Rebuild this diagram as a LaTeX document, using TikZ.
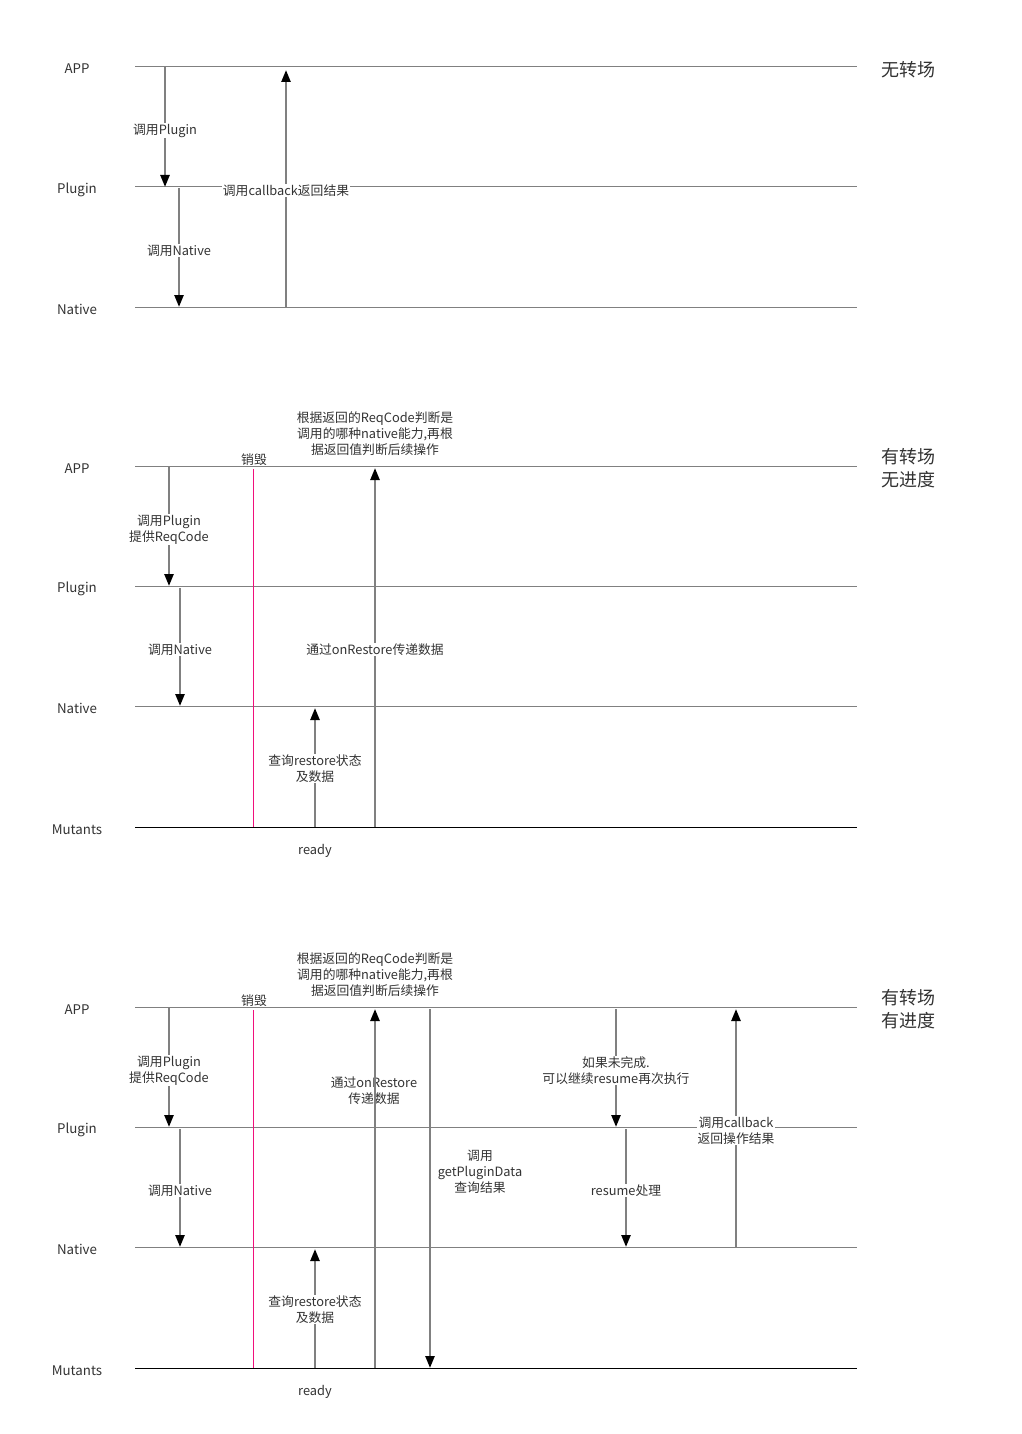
\documentclass[tikz,border=0pt]{standalone}
\usepackage{fontspec}
\setmainfont{Noto Sans CJK SC}
\usetikzlibrary{arrows.meta}
\definecolor{lgray}{HTML}{808080}
\definecolor{killc}{HTML}{F0107C}
\tikzset{
  hline/.style={draw=lgray,line width=1pt},
  mline/.style={draw=black,line width=1pt},
  msg/.style={draw=lgray,line width=2.4pt,-{Triangle[width=9pt,length=12pt,black]}},
  txt/.style={yshift=-1.5pt,text=black!80},
  lbl/.style={txt,fill=white,inner sep=1pt,align=center,font=\fontsize{12.8}{16}\selectfont},
  plain/.style={txt,inner sep=1pt,align=center,font=\fontsize{12.8}{16}\selectfont},
  lane/.style={txt,inner sep=0pt,font=\fontsize{13.3}{16}\selectfont},
  side/.style={txt,inner sep=0pt,align=left,font=\fontsize{18}{23}\selectfont},
  killl/.style={draw=killc,line width=0.9pt}
}
\begin{document}
\begin{tikzpicture}[x=1pt,y=-1pt]
\useasboundingbox[fill=white] (0,0) rectangle (1021,1434);

% ================= Panel 1 =================
\node[lane] (p1app) at (77,67) {APP};
\node[lane] (p1plg) at (77,188) {Plugin};
\node[lane] (p1nat) at (77,308) {Native};
\node[side,anchor=west] (p1side) at (881,68) {无转场};
\coordinate (p1l1a) at (135,67); \coordinate (p1l1b) at (857,67);
\coordinate (p1l2a) at (135,187); \coordinate (p1l2b) at (857,187);
\coordinate (p1l3a) at (135,307); \coordinate (p1l3b) at (857,307);
\draw[hline] (p1l1a) -- (p1l1b);
\draw[hline] (p1l2a) -- (p1l2b);
\draw[hline] (p1l3a) -- (p1l3b);
\coordinate (p1a1s) at (165,67); \coordinate (p1a1e) at (165,187);
\coordinate (p1a2s) at (179,188); \coordinate (p1a2e) at (179,307);
\coordinate (p1a3s) at (286,307); \coordinate (p1a3e) at (286,70);
\draw[msg] (p1a1s) -- (p1a1e);
\draw[msg] (p1a2s) -- (p1a2e);
\draw[msg] (p1a3s) -- (p1a3e);
\node[lbl] (p1t1) at (165,129) {调用Plugin};
\node[lbl] (p1t2) at (179,249) {调用Native};
\node[lbl] (p1t3) at (286,189) {调用callback返回结果};

% ================= Panel 2 =================
\node[lane] (p2app) at (77,467) {APP};
\node[lane] (p2plg) at (77,587) {Plugin};
\node[lane] (p2nat) at (77,707) {Native};
\node[lane] (p2mut) at (77,828) {Mutants};
\node[side,anchor=west] (p2side) at (881,467) {有转场\\无进度};
\coordinate (p2l1a) at (135,466); \coordinate (p2l1b) at (857,466);
\coordinate (p2l2a) at (135,586); \coordinate (p2l2b) at (857,586);
\coordinate (p2l3a) at (135,706); \coordinate (p2l3b) at (857,706);
\coordinate (p2l4a) at (135,827); \coordinate (p2l4b) at (857,827);
\draw[hline] (p2l1a) -- (p2l1b);
\draw[hline] (p2l2a) -- (p2l2b);
\draw[hline] (p2l3a) -- (p2l3b);
\draw[mline] (p2l4a) -- (p2l4b);
\node[plain] (p2kt) at (254,458) {销毁};
\coordinate (p2ks) at (253,469); \coordinate (p2ke) at (253,827);
\draw[killl] (p2ks) -- (p2ke);
\node[plain] (p2top) at (375,432) {根据返回的ReqCode判断是\\调用的哪种native能力,再根\\据返回值判断后续操作};
\coordinate (p2a1s) at (169,466); \coordinate (p2a1e) at (169,586);
\coordinate (p2a2s) at (180,588); \coordinate (p2a2e) at (180,706);
\coordinate (p2a3s) at (315,827); \coordinate (p2a3e) at (315,708);
\coordinate (p2a4s) at (375,827); \coordinate (p2a4e) at (375,468);
\draw[msg] (p2a1s) -- (p2a1e);
\draw[msg] (p2a2s) -- (p2a2e);
\draw[msg] (p2a3s) -- (p2a3e);
\draw[msg] (p2a4s) -- (p2a4e);
\node[lbl] (p2t1) at (169,528) {调用Plugin\\提供ReqCode};
\node[lbl] (p2t2) at (180,648) {调用Native};
\node[lbl] (p2t3) at (315,767) {查询restore状态\\及数据};
\node[lbl] (p2t4) at (375,648) {通过onRestore传递数据};
\node[plain] (p2rdy) at (315,849) {ready};

% ================= Panel 3 =================
\node[lane] (p3app) at (77,1008) {APP};
\node[lane] (p3plg) at (77,1128) {Plugin};
\node[lane] (p3nat) at (77,1248) {Native};
\node[lane] (p3mut) at (77,1369) {Mutants};
\node[side,anchor=west] (p3side) at (881,1008) {有转场\\有进度};
\coordinate (p3l1a) at (135,1007); \coordinate (p3l1b) at (857,1007);
\coordinate (p3l2a) at (135,1127); \coordinate (p3l2b) at (857,1127);
\coordinate (p3l3a) at (135,1247); \coordinate (p3l3b) at (857,1247);
\coordinate (p3l4a) at (135,1368); \coordinate (p3l4b) at (857,1368);
\draw[hline] (p3l1a) -- (p3l1b);
\draw[hline] (p3l2a) -- (p3l2b);
\draw[hline] (p3l3a) -- (p3l3b);
\draw[mline] (p3l4a) -- (p3l4b);
\node[plain] (p3kt) at (254,999) {销毁};
\coordinate (p3ks) at (253,1010); \coordinate (p3ke) at (253,1368);
\draw[killl] (p3ks) -- (p3ke);
\node[plain] (p3top) at (375,973) {根据返回的ReqCode判断是\\调用的哪种native能力,再根\\据返回值判断后续操作};
\node[plain] (p3t4) at (374,1089) {通过onRestore\\传递数据};
\node[plain] (p3t5) at (480,1170) {调用\\getPluginData\\查询结果};
\coordinate (p3a1s) at (169,1007); \coordinate (p3a1e) at (169,1127);
\coordinate (p3a2s) at (180,1129); \coordinate (p3a2e) at (180,1247);
\coordinate (p3a3s) at (315,1368); \coordinate (p3a3e) at (315,1249);
\coordinate (p3a4s) at (375,1368); \coordinate (p3a4e) at (375,1009);
\coordinate (p3a5s) at (430,1009); \coordinate (p3a5e) at (430,1368);
\coordinate (p3a6s) at (616,1009); \coordinate (p3a6e) at (616,1127);
\coordinate (p3a7s) at (626,1129); \coordinate (p3a7e) at (626,1247);
\coordinate (p3a8s) at (736,1247); \coordinate (p3a8e) at (736,1009);
\draw[msg] (p3a1s) -- (p3a1e);
\draw[msg] (p3a2s) -- (p3a2e);
\draw[msg] (p3a3s) -- (p3a3e);
\draw[msg] (p3a4s) -- (p3a4e);
\draw[msg] (p3a5s) -- (p3a5e);
\draw[msg] (p3a6s) -- (p3a6e);
\draw[msg] (p3a7s) -- (p3a7e);
\draw[msg] (p3a8s) -- (p3a8e);
\node[lbl] (p3t1) at (169,1069) {调用Plugin\\提供ReqCode};
\node[lbl] (p3t2) at (180,1189) {调用Native};
\node[lbl] (p3t3) at (315,1308) {查询restore状态\\及数据};
\node[lbl] (p3t6) at (616,1069) {如果未完成.\\可以继续resume再次执行};
\node[lbl] (p3t7) at (626,1189) {resume处理};
\node[lbl] (p3t8) at (736,1129) {调用callback\\返回操作结果};
\node[plain] (p3rdy) at (315,1390) {ready};
\end{tikzpicture}
\end{document}
